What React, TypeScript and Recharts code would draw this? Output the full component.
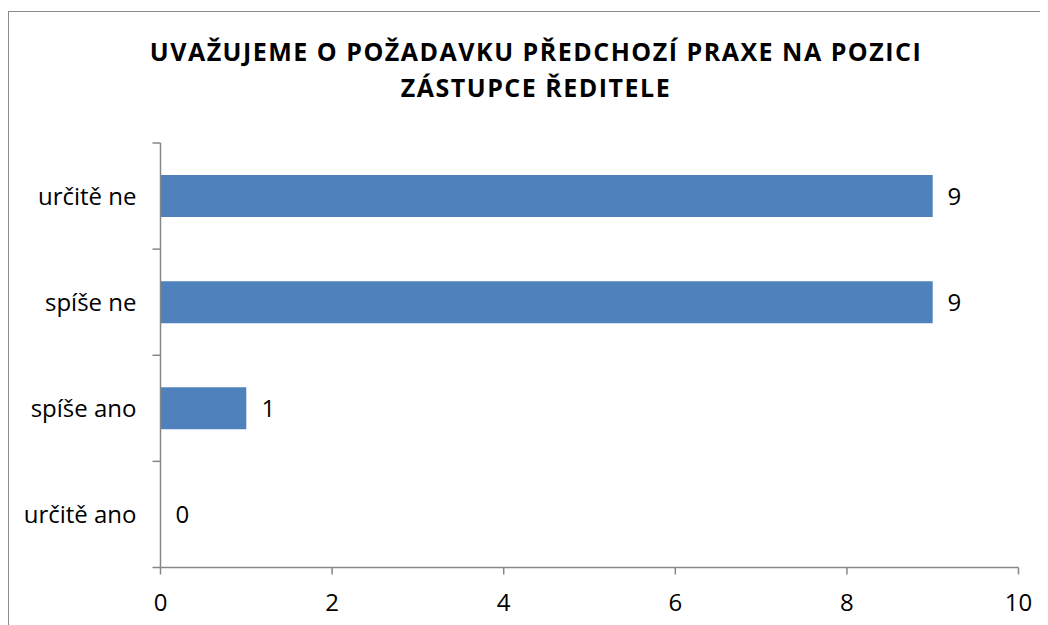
import React from "react";
import { BarChart, Bar, XAxis, YAxis, LabelList } from "recharts";

const categories = ["určitě ne", "spíše ne", "spíše ano", "určitě ano"];
const values = [9, 9, 1, 0];
const xTicks = [0, 2, 4, 6, 8, 10];
const titleLines = ["UVAŽUJEME O POŽADAVKU PŘEDCHOZÍ PRAXE NA POZICI", "ZÁSTUPCE ŘEDITELE"];

const data = categories.map((c, i) => ({ name: c, value: values[i] }));

const FONT = "'Open Sans', sans-serif";
const AXIS = "#868686";
const Y_TICK_SIZE = 8;
const Y_TICK_MARGIN = 16;

const ValueLabel = (props: any) => {
  const { x, y, width, height, value } = props;
  return (
    <text
      x={Number(x) + Math.round(Number(width || 0)) + 15}
      y={Number(y) + Number(height) / 2}
      dy="0.355em"
      fill="#000"
      fontSize={24}
      fontFamily={FONT}
      textAnchor="start"
    >
      {value}
    </text>
  );
};

const CategoryTick = (props: any) => {
  const { x, y, payload, index, visibleTicksCount } = props;
  const half = Number(payload && payload.offset) || 0;
  const axisX = Number(x) + Y_TICK_SIZE + Y_TICK_MARGIN;
  const isLast = index === visibleTicksCount - 1;
  return (
    <g>
      <line x1={axisX - Y_TICK_SIZE} x2={axisX} y1={y - half} y2={y - half} stroke={AXIS} strokeWidth={1.5} />
      {isLast && (
        <line x1={axisX - Y_TICK_SIZE} x2={axisX} y1={y + half} y2={y + half} stroke={AXIS} strokeWidth={1.5} />
      )}
      <text x={x} y={y} dy="0.355em" textAnchor="end" fill="#000" fontSize={24} fontFamily={FONT}>
        {payload.value}
      </text>
    </g>
  );
};

export default function App() {
  return (
    <div
      style={{
        position: "relative",
        width: 1040,
        height: 617,
        overflow: "hidden",
        background: "#fff",
        fontFamily: FONT,
      }}
    >
      <div
        style={{
          position: "absolute",
          left: 0,
          top: 3,
          width: 1100,
          height: 700,
          border: "1px solid #8a8a8a",
          boxSizing: "border-box",
        }}
      />
      <div
        style={{
          position: "absolute",
          left: 0,
          top: 25,
          width: 1056,
          textAlign: "center",
          fontWeight: 700,
          fontSize: 25,
          letterSpacing: "1.5px",
          lineHeight: "36px",
          color: "#000",
        }}
      >
        {titleLines.map((t) => (
          <div key={t}>{t}</div>
        ))}
      </div>
      <div style={{ position: "absolute", left: 0, top: 0 }}>
        <BarChart
          width={1040}
          height={617}
          data={data}
          layout="vertical"
          margin={{ top: 135, right: 29.5, left: 0, bottom: 0 }}
          barSize={42}
        >
          <YAxis
            type="category"
            dataKey="name"
            width={152.5}
            axisLine={{ stroke: AXIS, strokeWidth: 1.5 }}
            tickLine={false}
            tickSize={Y_TICK_SIZE}
            tickMargin={Y_TICK_MARGIN}
            tick={CategoryTick}
          />
          <XAxis
            type="number"
            domain={[0, 10]}
            ticks={xTicks}
            height={57.5}
            tickSize={7}
            tickMargin={19}
            axisLine={{ stroke: AXIS, strokeWidth: 1.5 }}
            tickLine={{ stroke: AXIS, strokeWidth: 1.5 }}
            tick={{ fill: "#000", fontSize: 24, fontFamily: FONT }}
          />
          <Bar dataKey="value" fill="#4F81BD" minPointSize={0.01} isAnimationActive={false}>
            <LabelList dataKey="value" content={ValueLabel} />
          </Bar>
        </BarChart>
      </div>
    </div>
  );
}
